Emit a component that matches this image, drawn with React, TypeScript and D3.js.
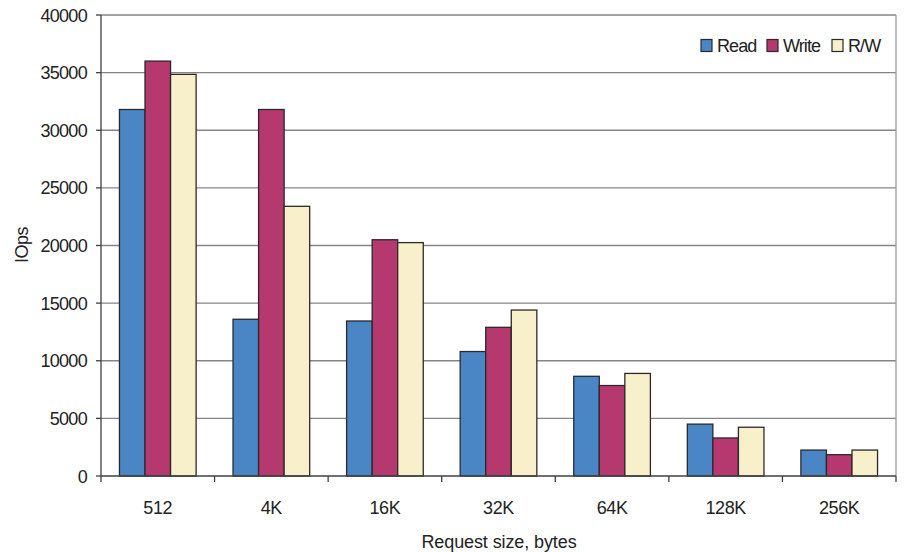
import React from "react";
import * as d3 from "d3";

const categories = ["512", "4K", "16K", "32K", "64K", "128K", "256K"];
const seriesNames = ["Read", "Write", "R/W"];
const readValues = [31800, 13600, 13450, 10800, 8650, 4500, 2250];
const writeValues = [36000, 31800, 20500, 12900, 7850, 3300, 1850];
const rwValues = [34850, 23400, 20250, 14400, 8900, 4230, 2250];
const yTicks = [0, 5000, 10000, 15000, 20000, 25000, 30000, 35000, 40000];
const colors = ["#4a86c5", "#b5386f", "#f8f0cb"];

const W = 905, H = 552;
const left = 101, right = 896, top = 15, bottom = 476;
const font = "Liberation Sans, Arial, sans-serif";

export default function App() {
  const series = [readValues, writeValues, rwValues];
  const x = d3.scaleBand<string>().domain(categories).range([left, right]).paddingInner(0.325).paddingOuter(0.1625);
  const x1 = d3.scaleBand<number>().domain([0, 1, 2]).range([0, x.bandwidth()]);
  const y = d3.scaleLinear().domain([0, 40000]).range([bottom, top]);
  const band = (right - left) / categories.length;
  const legendX = [701, 767, 832];
  return (
    <svg width={W} height={H} style={{ position: "absolute", left: 0, top: 0, fontFamily: font }}>
      <rect x={0} y={0} width={W} height={H} fill="#fff" />
      {yTicks.map((t) => (
        <g key={t}>
          {t > 0 && <line x1={left} x2={right} y1={y(t)} y2={y(t)} stroke="#858585" strokeWidth={1.4} />}
          <line x1={left - 5} x2={left} y1={y(t)} y2={y(t)} stroke="#404040" strokeWidth={1.3} />
          <text x={87} y={y(t) + 6.5} textAnchor="end" fontSize={18} fill="#222" letterSpacing={-0.7}>{t}</text>
        </g>
      ))}
      <line x1={right} x2={right} y1={top} y2={bottom} stroke="#999" strokeWidth={1.3} />
      {categories.map((c, i) => (
        <g key={c}>
          {series.map((s, j) => (
            <rect key={j} x={(x(c) as number) + (x1(j) as number)} y={y(s[i])} width={x1.bandwidth()} height={bottom - y(s[i])}
              fill={colors[j]} stroke="#2a2a2a" strokeWidth={1.3} />
          ))}
          <text x={left + band * (i + 0.5)} y={514} textAnchor="middle" fontSize={18} fill="#222" letterSpacing={-0.4}>{c}</text>
        </g>
      ))}
      {d3.range(categories.length + 1).map((i) => (
        <line key={i} x1={left + band * i} x2={left + band * i} y1={bottom} y2={bottom + 6} stroke="#404040" strokeWidth={1.3} />
      ))}
      <line x1={left} x2={left} y1={top} y2={bottom} stroke="#404040" strokeWidth={1.3} />
      <line x1={left} x2={right} y1={bottom} y2={bottom} stroke="#404040" strokeWidth={1.3} />
      {seriesNames.map((n, j) => (
        <g key={n}>
          <rect x={legendX[j]} y={39.5} width={11} height={12} fill={colors[j]} stroke="#2a2a2a" strokeWidth={1.2} />
          <text x={legendX[j] + 16} y={51.5} fontSize={18} fill="#222" letterSpacing={-0.9}>{n}</text>
        </g>
      ))}
      <text transform={`translate(28,245) rotate(-90)`} textAnchor="middle" fontSize={18} fill="#222" letterSpacing={-0.5}>IOps</text>
      <text x={499} y={548} textAnchor="middle" fontSize={18} fill="#222" letterSpacing={-0.1}>Request size, bytes</text>
    </svg>
  );
}
